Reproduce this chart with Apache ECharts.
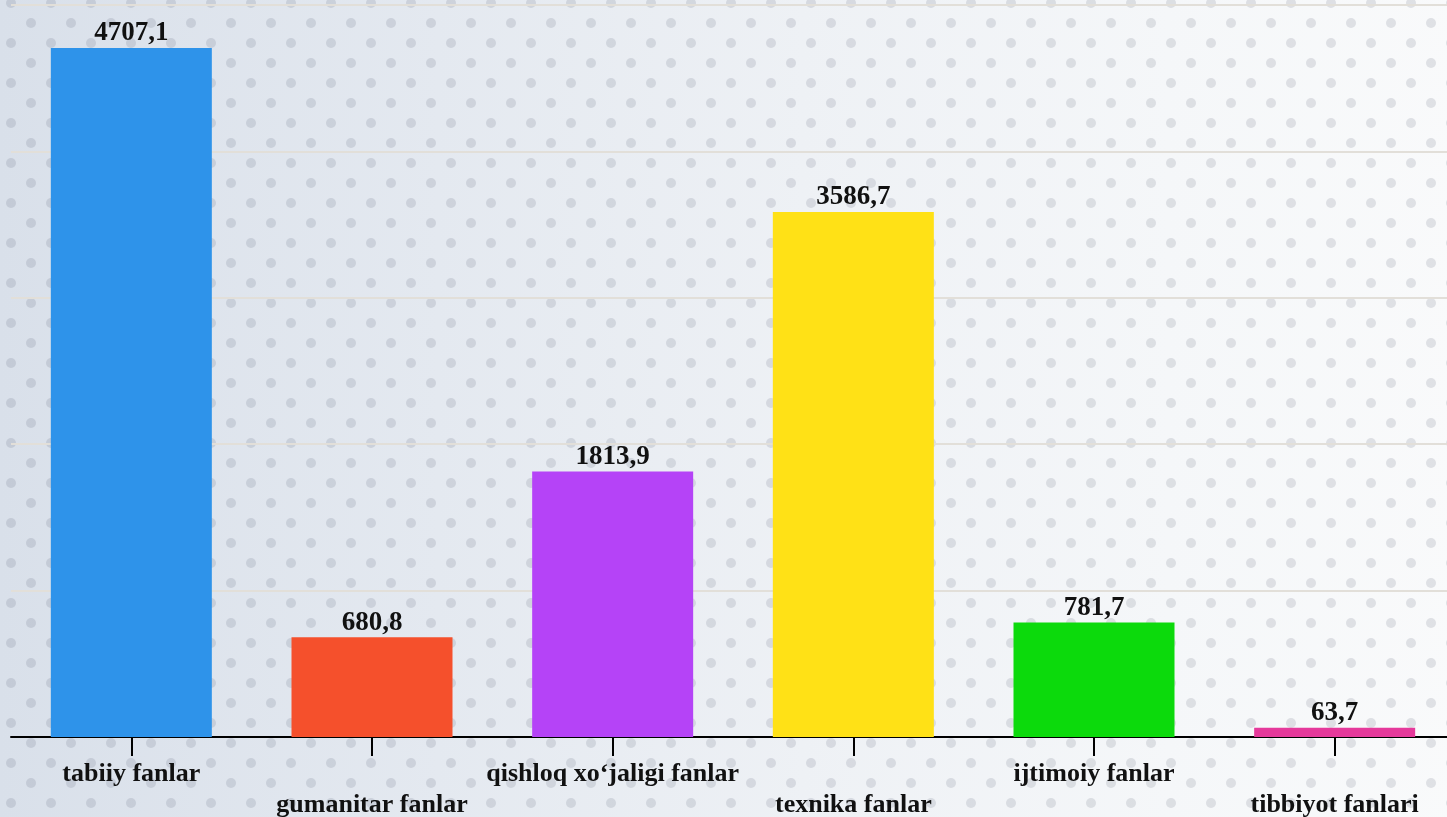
<!DOCTYPE html>
<html>
<head>
<meta charset="utf-8">
<title>fanlar</title>
<script src="https://cdn.jsdelivr.net/npm/echarts@6/dist/echarts.min.js"></script>
<style>
    html, body { margin: 0; padding: 0; overflow: hidden; }
    #chart {
        width: 1460px;
        height: 817px;
        background: linear-gradient(90deg, #d9e0ea 0%, #e4e9f0 30%, #eef1f5 55%, #f5f7f9 80%, #f9fafb 100%);
    }
</style>
</head>
<body>
<div id="chart"></div>
<script>
    // data
    const categories = ['tabiiy fanlar', 'gumanitar fanlar', 'qishloq xo\u2018jaligi fanlar', 'texnika fanlar', 'ijtimoiy fanlar', 'tibbiyot fanlari'];
    const values = [4707.1, 680.8, 1813.9, 3586.7, 781.7, 63.7];
    const barColors = ['#2e93ea', '#f5502c', '#b543f7', '#ffe116', '#0cda0c', '#e5399b'];

    // dotted backdrop tile
    function dotTile() {
        const c = document.createElement('canvas');
        c.width = 40;
        c.height = 40;
        const ctx = c.getContext('2d');
        ctx.fillStyle = 'rgba(40,50,70,0.12)';
        [[11, 3], [11, 43], [31, 23]].forEach(function (p) {
            ctx.beginPath();
            ctx.arc(p[0], p[1], 5, 0, Math.PI * 2);
            ctx.fill();
        });
        return c;
    }

    const chart = echarts.init(document.getElementById('chart'));
    chart.setOption({
        backgroundColor: { image: dotTile(), repeat: 'repeat' },
        animation: false,
        grid: { left: 11, width: 1444, top: 5, bottom: 80, containLabel: false, outerBoundsMode: 'none' },
        xAxis: {
            type: 'category',
            data: categories,
            axisLine: { show: true, lineStyle: { color: '#000', width: 2 } },
            axisTick: { show: true, alignWithLabel: true, length: 19, lineStyle: { color: '#000', width: 2 } },
            axisLabel: {
                interval: 0,
                margin: 22,
                fontFamily: 'Liberation Serif',
                fontWeight: 'bold',
                fontSize: 26,
                lineHeight: 31,
                color: '#111',
                formatter: function (v, i) { return i % 2 ? '\n' + v : v; }
            }
        },
        yAxis: {
            type: 'value',
            min: 0,
            max: 5000,
            interval: 1000,
            axisLabel: { show: false },
            axisLine: { show: false },
            axisTick: { show: false },
            splitLine: { lineStyle: { color: '#e2dfd9', width: 2 } }
        },
        series: [{
            type: 'bar',
            barWidth: 161,
            data: values.map(function (v, i) {
                return { value: v, itemStyle: { color: barColors[i] } };
            }),
            label: {
                show: true,
                position: 'top',
                distance: 1,
                fontFamily: 'Liberation Serif',
                fontWeight: 'bold',
                fontSize: 27,
                color: '#111',
                formatter: function (p) { return String(p.value).replace('.', ','); }
            }
        }]
    });
</script>
</body>
</html>
